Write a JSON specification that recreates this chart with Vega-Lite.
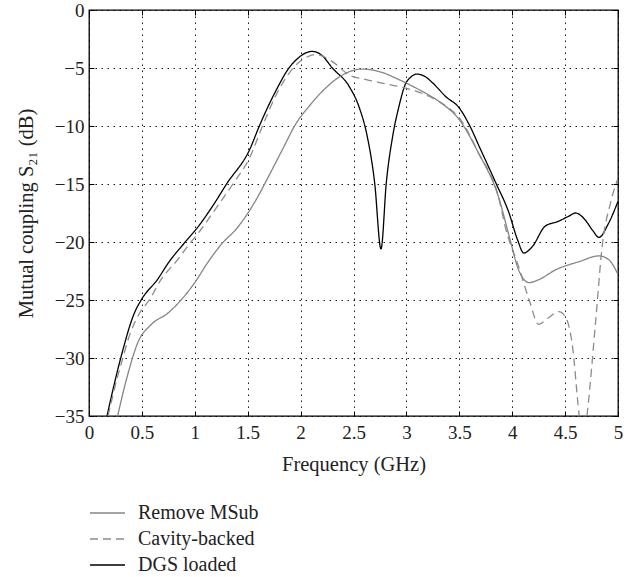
{
  "$schema": "https://vega.github.io/schema/vega-lite/v6.json",
  "width": 529,
  "height": 406,
  "autosize": "none",
  "padding": {"left": 89, "top": 10, "right": 19, "bottom": 161},
  "background": "white",
  "config": {
    "font": "Liberation Serif",
    "view": {"stroke": "black", "strokeWidth": 1.3},
    "axis": {"labelFont": "Liberation Serif", "titleFont": "Liberation Serif", "labelColor": "#222", "titleColor": "#222", "titleFontWeight": "normal"},
    "legend": {"labelFont": "Liberation Serif"}
  },
  "datasets": {
    "curves": [
      {"series": "DGS loaded", "f": 0.17, "s21": -35},
      {"series": "DGS loaded", "f": 0.30, "s21": -30.0},
      {"series": "DGS loaded", "f": 0.43, "s21": -26.1},
      {"series": "DGS loaded", "f": 0.50, "s21": -24.9},
      {"series": "DGS loaded", "f": 0.65, "s21": -23.2},
      {"series": "DGS loaded", "f": 0.75, "s21": -21.8},
      {"series": "DGS loaded", "f": 0.90, "s21": -20.1},
      {"series": "DGS loaded", "f": 1.03, "s21": -18.7},
      {"series": "DGS loaded", "f": 1.19, "s21": -16.6},
      {"series": "DGS loaded", "f": 1.30, "s21": -15.0},
      {"series": "DGS loaded", "f": 1.52, "s21": -12.0},
      {"series": "DGS loaded", "f": 1.61, "s21": -10.0},
      {"series": "DGS loaded", "f": 1.77, "s21": -6.9},
      {"series": "DGS loaded", "f": 1.89, "s21": -5.0},
      {"series": "DGS loaded", "f": 1.97, "s21": -4.2},
      {"series": "DGS loaded", "f": 2.08, "s21": -3.6},
      {"series": "DGS loaded", "f": 2.11, "s21": -3.57},
      {"series": "DGS loaded", "f": 2.20, "s21": -3.9},
      {"series": "DGS loaded", "f": 2.30, "s21": -5.0},
      {"series": "DGS loaded", "f": 2.46, "s21": -6.6},
      {"series": "DGS loaded", "f": 2.55, "s21": -8.3},
      {"series": "DGS loaded", "f": 2.63, "s21": -10.9},
      {"series": "DGS loaded", "f": 2.70, "s21": -14.9},
      {"series": "DGS loaded", "f": 2.76, "s21": -20.6},
      {"series": "DGS loaded", "f": 2.81, "s21": -14.9},
      {"series": "DGS loaded", "f": 2.87, "s21": -10.9},
      {"series": "DGS loaded", "f": 2.93, "s21": -8.3},
      {"series": "DGS loaded", "f": 2.99, "s21": -6.4},
      {"series": "DGS loaded", "f": 3.04, "s21": -5.8},
      {"series": "DGS loaded", "f": 3.10, "s21": -5.52},
      {"series": "DGS loaded", "f": 3.17, "s21": -5.7},
      {"series": "DGS loaded", "f": 3.25, "s21": -6.3},
      {"series": "DGS loaded", "f": 3.37, "s21": -7.45},
      {"series": "DGS loaded", "f": 3.50, "s21": -8.45},
      {"series": "DGS loaded", "f": 3.60, "s21": -10.0},
      {"series": "DGS loaded", "f": 3.69, "s21": -11.8},
      {"series": "DGS loaded", "f": 3.84, "s21": -14.8},
      {"series": "DGS loaded", "f": 3.97, "s21": -17.5},
      {"series": "DGS loaded", "f": 4.05, "s21": -19.8},
      {"series": "DGS loaded", "f": 4.11, "s21": -20.95},
      {"series": "DGS loaded", "f": 4.19, "s21": -20.4},
      {"series": "DGS loaded", "f": 4.31, "s21": -18.65},
      {"series": "DGS loaded", "f": 4.44, "s21": -18.2},
      {"series": "DGS loaded", "f": 4.53, "s21": -17.8},
      {"series": "DGS loaded", "f": 4.60, "s21": -17.5},
      {"series": "DGS loaded", "f": 4.69, "s21": -18.1},
      {"series": "DGS loaded", "f": 4.76, "s21": -19.0},
      {"series": "DGS loaded", "f": 4.82, "s21": -19.6},
      {"series": "DGS loaded", "f": 4.91, "s21": -18.4},
      {"series": "DGS loaded", "f": 5.0, "s21": -16.5},

      {"series": "Cavity-backed", "f": 0.18, "s21": -35},
      {"series": "Cavity-backed", "f": 0.27, "s21": -31.6},
      {"series": "Cavity-backed", "f": 0.32, "s21": -30.0},
      {"series": "Cavity-backed", "f": 0.37, "s21": -28.4},
      {"series": "Cavity-backed", "f": 0.48, "s21": -26.1},
      {"series": "Cavity-backed", "f": 0.57, "s21": -25.0},
      {"series": "Cavity-backed", "f": 0.68, "s21": -23.25},
      {"series": "Cavity-backed", "f": 0.84, "s21": -21.5},
      {"series": "Cavity-backed", "f": 0.93, "s21": -20.4},
      {"series": "Cavity-backed", "f": 1.06, "s21": -18.9},
      {"series": "Cavity-backed", "f": 1.20, "s21": -17.1},
      {"series": "Cavity-backed", "f": 1.36, "s21": -15.0},
      {"series": "Cavity-backed", "f": 1.52, "s21": -12.7},
      {"series": "Cavity-backed", "f": 1.64, "s21": -10.0},
      {"series": "Cavity-backed", "f": 1.77, "s21": -7.3},
      {"series": "Cavity-backed", "f": 1.93, "s21": -5.0},
      {"series": "Cavity-backed", "f": 2.05, "s21": -4.1},
      {"series": "Cavity-backed", "f": 2.13, "s21": -3.85},
      {"series": "Cavity-backed", "f": 2.18, "s21": -3.9},
      {"series": "Cavity-backed", "f": 2.30, "s21": -4.45},
      {"series": "Cavity-backed", "f": 2.46, "s21": -5.6},
      {"series": "Cavity-backed", "f": 2.62, "s21": -6.0},
      {"series": "Cavity-backed", "f": 2.77, "s21": -6.3},
      {"series": "Cavity-backed", "f": 2.93, "s21": -6.6},
      {"series": "Cavity-backed", "f": 3.09, "s21": -7.0},
      {"series": "Cavity-backed", "f": 3.25, "s21": -7.6},
      {"series": "Cavity-backed", "f": 3.40, "s21": -8.45},
      {"series": "Cavity-backed", "f": 3.50, "s21": -9.3},
      {"series": "Cavity-backed", "f": 3.68, "s21": -12.3},
      {"series": "Cavity-backed", "f": 3.87, "s21": -16.1},
      {"series": "Cavity-backed", "f": 3.94, "s21": -18.9},
      {"series": "Cavity-backed", "f": 4.06, "s21": -22.1},
      {"series": "Cavity-backed", "f": 4.16, "s21": -25.0},
      {"series": "Cavity-backed", "f": 4.25, "s21": -27.1},
      {"series": "Cavity-backed", "f": 4.34, "s21": -26.55},
      {"series": "Cavity-backed", "f": 4.44, "s21": -26.0},
      {"series": "Cavity-backed", "f": 4.50, "s21": -26.4},
      {"series": "Cavity-backed", "f": 4.57, "s21": -29.0},
      {"series": "Cavity-backed", "f": 4.63, "s21": -34.7},
      {"series": "Cavity-backed", "f": 4.67, "s21": -37.5},
      {"series": "Cavity-backed", "f": 4.71, "s21": -34.7},
      {"series": "Cavity-backed", "f": 4.79, "s21": -26.7},
      {"series": "Cavity-backed", "f": 4.85, "s21": -20.4},
      {"series": "Cavity-backed", "f": 4.93, "s21": -16.6},
      {"series": "Cavity-backed", "f": 5.0, "s21": -14.5},

      {"series": "Remove MSub", "f": 0.27, "s21": -35},
      {"series": "Remove MSub", "f": 0.37, "s21": -31.3},
      {"series": "Remove MSub", "f": 0.46, "s21": -28.7},
      {"series": "Remove MSub", "f": 0.59, "s21": -27.1},
      {"series": "Remove MSub", "f": 0.75, "s21": -26.1},
      {"series": "Remove MSub", "f": 0.87, "s21": -25.0},
      {"series": "Remove MSub", "f": 1.0, "s21": -23.5},
      {"series": "Remove MSub", "f": 1.12, "s21": -21.8},
      {"series": "Remove MSub", "f": 1.26, "s21": -20.1},
      {"series": "Remove MSub", "f": 1.39, "s21": -18.9},
      {"series": "Remove MSub", "f": 1.58, "s21": -16.35},
      {"series": "Remove MSub", "f": 1.70, "s21": -14.3},
      {"series": "Remove MSub", "f": 1.83, "s21": -12.0},
      {"series": "Remove MSub", "f": 1.96, "s21": -9.74},
      {"series": "Remove MSub", "f": 2.08, "s21": -8.3},
      {"series": "Remove MSub", "f": 2.24, "s21": -6.7},
      {"series": "Remove MSub", "f": 2.40, "s21": -5.58},
      {"series": "Remove MSub", "f": 2.58, "s21": -5.09},
      {"series": "Remove MSub", "f": 2.74, "s21": -5.3},
      {"series": "Remove MSub", "f": 2.93, "s21": -6.0},
      {"series": "Remove MSub", "f": 3.12, "s21": -6.87},
      {"series": "Remove MSub", "f": 3.31, "s21": -7.9},
      {"series": "Remove MSub", "f": 3.50, "s21": -9.46},
      {"series": "Remove MSub", "f": 3.68, "s21": -12.3},
      {"series": "Remove MSub", "f": 3.87, "s21": -16.1},
      {"series": "Remove MSub", "f": 3.98, "s21": -19.8},
      {"series": "Remove MSub", "f": 4.06, "s21": -22.4},
      {"series": "Remove MSub", "f": 4.16, "s21": -23.5},
      {"series": "Remove MSub", "f": 4.25, "s21": -23.25},
      {"series": "Remove MSub", "f": 4.41, "s21": -22.4},
      {"series": "Remove MSub", "f": 4.63, "s21": -21.7},
      {"series": "Remove MSub", "f": 4.82, "s21": -21.2},
      {"series": "Remove MSub", "f": 4.91, "s21": -21.5},
      {"series": "Remove MSub", "f": 5.0, "s21": -22.8}
    ]
  },
  "data": {"name": "curves"},
  "layer": [
    {
      "mark": {"type": "line", "clip": true, "interpolate": "monotone"},
      "encoding": {
        "x": {
          "field": "f", "type": "quantitative",
          "scale": {"domain": [0, 5], "nice": false, "zero": false},
          "axis": {
            "orient": "bottom", "title": "Frequency (GHz)", "values": [0, 0.5, 1, 1.5, 2, 2.5, 3, 3.5, 4, 4.5, 5],
            "format": "~g", "labelFontSize": 19, "titleFontSize": 20.5, "labelPadding": 12, "titlePadding": 12,
            "tickSize": -5, "tickColor": "black", "domain": false,
            "grid": true, "gridColor": "black", "gridDash": [1.5, 4.5], "gridOpacity": 0.9,
            "labelFlush": false
          }
        },
        "y": {
          "field": "s21", "type": "quantitative",
          "scale": {"domain": [-35, 0], "nice": false, "zero": false},
          "axis": {
            "orient": "left", "title": "Mutual coupling S₂₁ (dB)", "values": [-35, -30, -25, -20, -15, -10, -5, 0],
            "labelFontSize": 19, "titleFontSize": 20.5, "labelPadding": 10, "titlePadding": 18,
            "tickSize": -5, "tickColor": "black", "domain": false,
            "grid": true, "gridColor": "black", "gridDash": [1.5, 4.5], "gridOpacity": 0.9,
            "labelFlush": false
          }
        },
        "color": {
          "field": "series", "type": "nominal",
          "scale": {"domain": ["Remove MSub", "Cavity-backed", "DGS loaded"], "range": ["#858585", "#8c8c8c", "#000000"]},
          "legend": {
            "orient": "none", "legendX": 0, "legendY": 490, "title": null, "direction": "vertical",
            "symbolType": "stroke", "symbolSize": 1225, "symbolStrokeWidth": 1.5,
            "labelFontSize": 20, "labelColor": "#222", "labelOffset": 12, "rowPadding": 0, "clipHeight": 26, "padding": 0
          }
        },
        "strokeDash": {
          "field": "series", "type": "nominal",
          "scale": {"domain": ["Remove MSub", "Cavity-backed", "DGS loaded"], "range": [[1, 0], [8, 5], [1, 0]]},
          "legend": {
            "orient": "none", "legendX": 0, "legendY": 490, "title": null, "direction": "vertical",
            "symbolType": "stroke", "symbolSize": 1225, "symbolStrokeWidth": 1.5,
            "labelFontSize": 20, "labelColor": "#222", "labelOffset": 12, "rowPadding": 0, "clipHeight": 26, "padding": 0
          }
        },
        "strokeWidth": {
          "field": "series", "type": "nominal",
          "scale": {"domain": ["Remove MSub", "Cavity-backed", "DGS loaded"], "range": [1.3, 1.3, 1.8]},
          "legend": null
        }
      }
    },
    {
      "mark": {"type": "point", "opacity": 0, "clip": true},
      "encoding": {
        "x": {
          "field": "f", "type": "quantitative",
          "axis": {"orient": "top", "title": null, "labels": false, "values": [0, 0.5, 1, 1.5, 2, 2.5, 3, 3.5, 4, 4.5, 5], "tickSize": -5, "tickColor": "black", "domain": false, "grid": false}
        },
        "y": {
          "field": "s21", "type": "quantitative",
          "axis": {"orient": "right", "title": null, "labels": false, "values": [-35, -30, -25, -20, -15, -10, -5, 0], "tickSize": -5, "tickColor": "black", "domain": false, "grid": false}
        }
      }
    }
  ],
  "resolve": {"axis": {"x": "independent", "y": "independent"}}
}
